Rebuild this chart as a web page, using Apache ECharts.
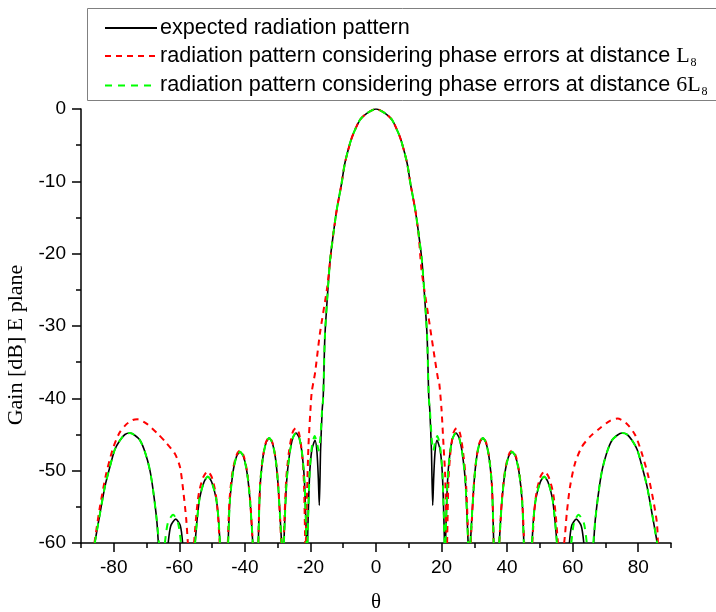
<!DOCTYPE html>
<html>
<head>
<meta charset="utf-8">
<script src="https://cdn.jsdelivr.net/npm/echarts@6/dist/echarts.min.js"></script>
<style>
  html, body { margin: 0; padding: 0; background: #fff; }
  #chart { width: 716px; height: 612px; }
</style>
</head>
<body>
<div id="chart"></div>
<script>
// angles in degrees, gain in dB; each inner array is one lobe
const expectedLobes = [
  [[-85.8,-60],[-84.2,-55.9],[-82.7,-52.2],[-81.2,-49.5],[-79.7,-47.1],[-78.1,-45.8],[-76.6,-45.0],[-75.1,-44.8],[-73.6,-45.1],[-72.0,-45.8],[-70.5,-47.4],[-69.0,-49.9],[-68.0,-52.7],[-66.9,-56.8],[-66.4,-60]],
  [[-63.4,-60],[-62.6,-57.6],[-61.1,-56.7],[-59.7,-57.6],[-59.0,-60]],
  [[-55.2,-60],[-54.5,-56.4],[-53.8,-53.8],[-52.5,-51.6],[-51.3,-50.8],[-50.1,-51.6],[-48.8,-53.8],[-48.1,-56.4],[-47.6,-60]],
  [[-45.1,-60],[-44.6,-54.3],[-43.7,-50.4],[-42.6,-48.1],[-41.5,-47.4],[-40.4,-48.1],[-39.3,-50.4],[-38.4,-54.3],[-37.6,-60]],
  [[-35.9,-60],[-35.4,-52.4],[-34.6,-48.5],[-33.6,-46.2],[-32.6,-45.5],[-31.6,-46.2],[-30.6,-48.5],[-29.8,-52.4],[-28.8,-60]],
  [[-28.1,-60],[-27.3,-51.7],[-26.4,-47.8],[-25.4,-45.5],[-24.4,-44.8],[-23.4,-45.5],[-22.5,-47.8],[-21.8,-51.7],[-21.2,-60]],
  [[-20.9,-60],[-20.3,-51.0],[-19.6,-47.2],[-18.6,-45.8],[-18.0,-47.5],[-17.6,-51.0],[-17.3,-54.8],[-16.9,-47.0],[-16.4,-41.5],[-16.1,-39.8],[-15.6,-31.5],[-14.9,-26.4],[-14.0,-20.9],[-13.0,-17.2],[-12.0,-14.0],[-10.5,-10.3],[-9.5,-7.5],[-7.9,-4.7],[-6.9,-3.4],[-4.9,-1.5],[-2.8,-0.6],[0,0],
   [2.8,-0.6],[4.9,-1.5],[6.9,-3.4],[7.9,-4.7],[9.5,-7.5],[10.5,-10.3],[12.0,-14.0],[13.0,-17.2],[14.0,-20.9],[14.9,-26.4],[15.6,-31.5],[16.1,-39.8],[16.4,-41.5],[16.9,-47.0],[17.3,-54.8],[17.6,-51.0],[18.0,-47.5],[18.6,-45.8],[19.6,-47.2],[20.3,-51.0],[20.9,-60]],
  [[21.2,-60],[21.8,-51.7],[22.5,-47.8],[23.4,-45.5],[24.4,-44.8],[25.4,-45.5],[26.4,-47.8],[27.3,-51.7],[28.1,-60]],
  [[28.8,-60],[29.8,-52.4],[30.6,-48.5],[31.6,-46.2],[32.6,-45.5],[33.6,-46.2],[34.6,-48.5],[35.4,-52.4],[35.9,-60]],
  [[37.6,-60],[38.4,-54.3],[39.3,-50.4],[40.4,-48.1],[41.5,-47.4],[42.6,-48.1],[43.7,-50.4],[44.6,-54.3],[45.1,-60]],
  [[47.6,-60],[48.1,-56.4],[48.8,-53.8],[50.1,-51.6],[51.3,-50.8],[52.5,-51.6],[53.8,-53.8],[54.5,-56.4],[55.2,-60]],
  [[59.0,-60],[59.7,-57.6],[61.1,-56.7],[62.6,-57.6],[63.4,-60]],
  [[66.4,-60],[66.9,-56.8],[68.0,-52.7],[69.0,-49.9],[70.5,-47.4],[72.0,-45.8],[73.6,-45.1],[75.1,-44.8],[76.6,-45.0],[78.1,-45.8],[79.7,-47.1],[81.2,-49.5],[82.7,-52.2],[84.2,-55.9],[85.8,-60]]
];

const lsLobes = [
  [[-85.9,-60],[-84.3,-55.2],[-82.4,-50.6],[-80.3,-47.0],[-78.3,-44.8],[-76.2,-43.6],[-74.2,-43.0],[-72.8,-42.9],[-70.0,-43.5],[-66.8,-44.8],[-63.9,-46.2],[-61.3,-47.7],[-59.8,-49.5],[-58.8,-52.8],[-57.9,-56.7],[-57.4,-60]],
  [[-55.5,-60],[-54.8,-56.0],[-54.0,-53.0],[-52.7,-50.9],[-51.4,-50.1],[-50.1,-50.9],[-48.9,-53.2],[-48.2,-56.2],[-47.7,-60]],
  [[-45.2,-60],[-44.7,-54.1],[-43.8,-50.2],[-42.6,-47.9],[-41.5,-47.2],[-40.4,-47.9],[-39.3,-50.2],[-38.4,-54.1],[-37.6,-60]],
  [[-35.9,-60],[-35.4,-52.3],[-34.6,-48.4],[-33.6,-46.1],[-32.6,-45.4],[-31.6,-46.1],[-30.6,-48.4],[-29.8,-52.3],[-28.9,-60]],
  [[-28.2,-60],[-27.4,-51.2],[-26.5,-47.2],[-25.5,-44.8],[-24.5,-44.1],[-23.5,-44.8],[-22.6,-47.5],[-22.0,-51.5],[-21.6,-60]],
  [[-21.4,-60],[-21.0,-52.5],[-20.6,-46.5],[-20.0,-41.6],[-19.6,-39.1],[-18.6,-36.5],[-17.1,-31.0],[-15.0,-25.0],[-14.0,-21.0],[-13.0,-17.2],[-12.0,-14.0],[-10.5,-10.3],[-9.5,-7.5],[-7.9,-4.7],[-6.9,-3.4],[-4.9,-1.5],[-2.8,-0.6],[0,0],
   [2.8,-0.6],[4.9,-1.5],[6.9,-3.4],[7.9,-4.7],[9.5,-7.5],[10.5,-10.3],[12.0,-14.0],[13.0,-17.4],[13.9,-22.3],[16.0,-28.7],[18.0,-34.7],[19.0,-37.5],[19.3,-37.9],[20.0,-41.6],[20.6,-46.5],[21.1,-50.6],[21.5,-60]],
  [[21.7,-60],[22.1,-51.5],[22.7,-47.5],[23.6,-44.8],[24.6,-44.1],[25.6,-44.8],[26.5,-47.2],[27.4,-51.2],[28.2,-60]],
  [[28.9,-60],[29.8,-52.3],[30.6,-48.4],[31.6,-46.1],[32.6,-45.4],[33.6,-46.1],[34.6,-48.4],[35.4,-52.3],[35.9,-60]],
  [[37.6,-60],[38.4,-54.1],[39.3,-50.2],[40.4,-47.9],[41.5,-47.2],[42.6,-47.9],[43.7,-50.2],[44.6,-54.1],[45.2,-60]],
  [[47.7,-60],[48.2,-56.2],[48.9,-53.2],[50.1,-50.9],[51.4,-50.1],[52.7,-50.9],[54.0,-53.0],[54.8,-56.0],[55.5,-60]],
  [[57.4,-60],[57.7,-58.7],[58.2,-55.9],[59.2,-52.2],[60.7,-49.0],[62.8,-46.7],[65.3,-45.3],[68.4,-44.1],[71.4,-43.1],[73.7,-42.8],[76.5,-43.5],[79.1,-45.1],[81.1,-47.6],[83.1,-50.8],[84.6,-54.1],[85.7,-57.2],[86.0,-60]]
];

const sixLsLobes = [
  [[-85.8,-60],[-84.2,-55.9],[-82.7,-52.2],[-81.2,-49.5],[-79.7,-47.1],[-78.1,-45.8],[-76.6,-45.0],[-75.1,-44.8],[-73.6,-45.1],[-72.0,-45.8],[-70.5,-47.4],[-69.0,-49.9],[-68.0,-52.7],[-66.9,-56.8],[-66.2,-60]],
  [[-64.4,-60],[-63.5,-57.2],[-61.9,-56.1],[-60.4,-57.2],[-59.5,-60]],
  [[-55.2,-60],[-54.5,-56.4],[-53.8,-53.8],[-52.5,-51.6],[-51.3,-50.8],[-50.1,-51.6],[-48.8,-53.8],[-48.1,-56.4],[-47.6,-60]],
  [[-45.1,-60],[-44.6,-54.3],[-43.7,-50.4],[-42.6,-48.1],[-41.5,-47.4],[-40.4,-48.1],[-39.3,-50.4],[-38.4,-54.3],[-37.6,-60]],
  [[-35.9,-60],[-35.4,-52.4],[-34.6,-48.5],[-33.6,-46.2],[-32.6,-45.5],[-31.6,-46.2],[-30.6,-48.5],[-29.8,-52.4],[-28.8,-60]],
  [[-28.1,-60],[-27.3,-51.7],[-26.4,-47.8],[-25.4,-45.5],[-24.4,-44.8],[-23.4,-45.5],[-22.5,-47.8],[-21.8,-51.7],[-21.2,-60]],
  [[-20.9,-60],[-20.3,-50.8],[-19.6,-46.8],[-18.7,-45.2],[-18.0,-46.2],[-17.5,-47.2],[-17.0,-45.6],[-16.5,-42.0],[-16.1,-39.8],[-15.6,-31.5],[-14.9,-26.4],[-14.0,-20.9],[-13.0,-17.2],[-12.0,-14.0],[-10.5,-10.3],[-9.5,-7.5],[-7.9,-4.7],[-6.9,-3.4],[-4.9,-1.5],[-2.8,-0.6],[0,0],
   [2.8,-0.6],[4.9,-1.5],[6.9,-3.4],[7.9,-4.7],[9.5,-7.5],[10.5,-10.3],[12.0,-14.0],[13.0,-17.2],[14.0,-20.9],[14.9,-26.4],[15.6,-31.5],[16.1,-39.8],[16.5,-42.0],[17.0,-45.6],[17.5,-47.2],[18.0,-46.2],[18.7,-45.2],[19.6,-46.8],[20.3,-50.8],[20.9,-60]],
  [[21.2,-60],[21.8,-51.7],[22.5,-47.8],[23.4,-45.5],[24.4,-44.8],[25.4,-45.5],[26.4,-47.8],[27.3,-51.7],[28.1,-60]],
  [[28.8,-60],[29.8,-52.4],[30.6,-48.5],[31.6,-46.2],[32.6,-45.5],[33.6,-46.2],[34.6,-48.5],[35.4,-52.4],[35.9,-60]],
  [[37.6,-60],[38.4,-54.3],[39.3,-50.4],[40.4,-48.1],[41.5,-47.4],[42.6,-48.1],[43.7,-50.4],[44.6,-54.3],[45.1,-60]],
  [[47.6,-60],[48.1,-56.4],[48.8,-53.8],[50.1,-51.6],[51.3,-50.8],[52.5,-51.6],[53.8,-53.8],[54.5,-56.4],[55.2,-60]],
  [[59.6,-60],[60.4,-57.2],[61.8,-56.1],[63.4,-57.2],[64.3,-60]],
  [[66.3,-60],[66.9,-56.8],[68.0,-52.7],[69.0,-49.9],[70.5,-47.4],[72.0,-45.8],[73.6,-45.1],[75.1,-44.8],[76.6,-45.0],[78.1,-45.8],[79.7,-47.1],[81.2,-49.5],[82.7,-52.2],[84.2,-55.9],[85.8,-60]]
];

const xTickLabels = [-80, -60, -40, -20, 0, 20, 40, 60, 80];
const yTickLabels = [-60, -50, -40, -30, -20, -10, 0];

const seriesNames = [
  'expected radiation pattern',
  'radiation pattern considering phase errors at distance Ls',
  'radiation pattern considering phase errors at distance 6Ls'
];

// join lobes with a gap so nothing is drawn along the bottom
function joinLobes(lobes) {
  const out = [];
  lobes.forEach((lobe, i) => {
    if (i > 0) out.push('-');
    lobe.forEach(p => out.push(p));
  });
  return out;
}

const chart = echarts.init(document.getElementById('chart'));

chart.setOption({
  animation: false,
  backgroundColor: '#fff',
  grid: { left: 81, right: 45, top: 109, bottom: 69, outerBoundsMode: 'none' },
  graphic: [{
    type: 'rect',
    shape: { x: 87.5, y: 8.5, width: 640, height: 92 },
    style: { fill: '#fff', stroke: '#808080', lineWidth: 1 },
    z: 0
  }],
  legend: {
    orient: 'vertical',
    left: 99,
    top: 12,
    itemWidth: 52,
    itemHeight: 14,
    itemGap: 6,
    data: seriesNames,
    itemStyle: { opacity: 0 },
    textStyle: {
      fontFamily: 'Liberation Sans',
      fontSize: 21.6,
      color: '#000',
      padding: [0, 0, 0, -2],
      rich: {
        m: { fontFamily: 'Liberation Serif', fontSize: 22, color: '#000' },
        s: { fontFamily: 'Liberation Serif', fontSize: 12, color: '#000', padding: [13, 0, 0, 1] }
      }
    },
    formatter: function (name) {
      if (name === seriesNames[1]) return 'radiation pattern considering phase errors at distance {m|L}{s|8}';
      if (name === seriesNames[2]) return 'radiation pattern considering phase errors at distance {m|6L}{s|8}';
      return name;
    }
  },
  xAxis: [{
    type: 'value',
    min: -90,
    max: 90,
    interval: 10,
    axisLine: { onZero: false, lineStyle: { color: '#000', width: 1.5 } },
    axisTick: { length: 5, lineStyle: { color: '#000', width: 1.5 } },
    axisLabel: { show: false },
    splitLine: { show: false }
  }, {
    type: 'value',
    min: -90,
    max: 90,
    position: 'bottom',
    axisLine: { show: false, onZero: false },
    axisTick: { show: true, customValues: xTickLabels, length: 9, lineStyle: { color: '#000', width: 1.5 } },
    axisLabel: { customValues: xTickLabels, fontFamily: 'Liberation Sans', fontSize: 19, color: '#000', margin: 15 },
    splitLine: { show: false },
    name: 'θ',
    nameLocation: 'middle',
    nameGap: 49,
    nameTextStyle: { fontFamily: 'Liberation Serif', fontSize: 21, color: '#000' }
  }],
  yAxis: {
    type: 'value',
    min: -60,
    max: 0,
    interval: 10,
    axisLine: { show: true, onZero: false, lineStyle: { color: '#000', width: 1.5 } },
    axisTick: { length: 9, lineStyle: { color: '#000', width: 1.5 } },
    minorTick: { show: true, splitNumber: 2, length: 5, lineStyle: { color: '#000', width: 1.5 } },
    axisLabel: {
      fontFamily: 'Liberation Sans', fontSize: 19, color: '#000', margin: 15,
      customValues: yTickLabels
    },
    splitLine: { show: false },
    name: 'Gain [dB] E plane',
    nameLocation: 'middle',
    nameGap: 52,
    nameTextStyle: { fontFamily: 'Liberation Serif', fontSize: 22, color: '#000', padding: [0, 38, 0, 0] }
  },
  series: [{
    name: seriesNames[0],
    type: 'line',
    data: joinLobes(expectedLobes),
    symbol: 'none',
    smooth: 0.25,
    clip: true,
    lineStyle: { color: '#000', width: 1.6 },
    itemStyle: { color: '#000' }
  }, {
    name: seriesNames[1],
    type: 'line',
    data: joinLobes(lsLobes),
    symbol: 'none',
    smooth: 0.25,
    clip: true,
    lineStyle: { color: '#ff0000', width: 2, type: [6, 5] },
    itemStyle: { color: '#ff0000' }
  }, {
    name: seriesNames[2],
    type: 'line',
    data: joinLobes(sixLsLobes),
    symbol: 'none',
    smooth: 0.25,
    clip: true,
    lineStyle: { color: '#00ff00', width: 2, type: [7, 6] },
    itemStyle: { color: '#00ff00' }
  }]
});
</script>
</body>
</html>
